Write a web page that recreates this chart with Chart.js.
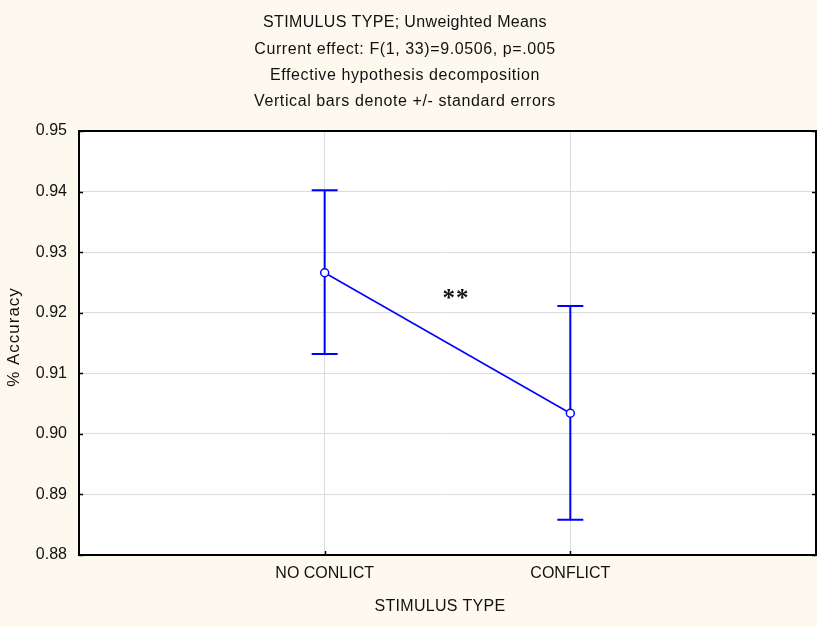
<!DOCTYPE html>
<html>
<head>
<meta charset="utf-8">
<script src="https://cdn.jsdelivr.net/npm/chart.js@4/dist/chart.umd.min.js"></script>
<style>
  html, body { margin: 0; padding: 0; background: #FDF9EE; }
  #wrap { width: 817px; height: 627px; }
</style>
</head>
<body>
<div id="wrap"><canvas id="c" width="817" height="627"></canvas></div>
<script>
// Stimulus type conditions and their mean accuracy
const categories = ['NO CONLICT', 'CONFLICT'];
const catPositions = [1, 2];
const meanAccuracy = [0.9266, 0.9034];
// Mean +/- standard error
const upperSE = [0.9402, 0.9211];
const lowerSE = [0.9132, 0.8858];
const yTicks = [0.88, 0.89, 0.90, 0.91, 0.92, 0.93, 0.94, 0.95];

const titleLines = [
  'STIMULUS TYPE; Unweighted Means',
  'Current effect: F(1, 33)=9.0506, p=.005',
  'Effective hypothesis decomposition',
  'Vertical bars denote +/- standard errors'
];
const titleSpacing = [0.35, 0.6, 0.6, 0.6];
const xTitle = 'STIMULUS TYPE';
const yTitle = '% Accuracy';
const significance = '**';

const FONT = '"Liberation Sans", Arial, sans-serif';
const BLUE = '#0000FF';

const frame = {
  id: 'frame',
  beforeDraw(chart) {
    const { ctx, chartArea: a } = chart;
    ctx.save();
    ctx.fillStyle = '#FDF9EE';
    ctx.fillRect(0, 0, chart.width, chart.height);
    ctx.fillStyle = '#FFFFFF';
    ctx.fillRect(a.left, a.top, a.right - a.left, a.bottom - a.top);
    ctx.restore();
  },
  beforeDatasetsDraw(chart) {
    // standard-error whiskers
    const { ctx, scales: { x, y } } = chart;
    ctx.save();
    ctx.strokeStyle = BLUE;
    ctx.lineWidth = 2;
    catPositions.forEach((p, i) => {
      const px = x.getPixelForValue(p);
      const yt = y.getPixelForValue(upperSE[i]);
      const yb = y.getPixelForValue(lowerSE[i]);
      ctx.beginPath();
      ctx.moveTo(px, yt); ctx.lineTo(px, yb);
      ctx.moveTo(px - 13, yt); ctx.lineTo(px + 13, yt);
      ctx.moveTo(px - 13, yb); ctx.lineTo(px + 13, yb);
      ctx.stroke();
    });
    ctx.restore();
  },
  afterDraw(chart) {
    const { ctx, chartArea: a, scales: { x, y } } = chart;
    ctx.save();
    // plot box
    ctx.strokeStyle = '#000';
    ctx.lineWidth = 2;
    ctx.strokeRect(a.left, a.top, a.right - a.left, a.bottom - a.top);
    // short inner ticks on the value axis
    ctx.lineWidth = 1.5;
    yTicks.forEach(v => {
      const py = Math.round(y.getPixelForValue(v)) + 0.5;
      ctx.beginPath();
      ctx.moveTo(a.left, py); ctx.lineTo(a.left + 4, py);
      ctx.moveTo(a.right, py); ctx.lineTo(a.right - 4, py);
      ctx.stroke();
    });
    catPositions.forEach(p => {
      const px = Math.round(x.getPixelForValue(p)) + 0.5;
      ctx.beginPath();
      ctx.moveTo(px, a.bottom); ctx.lineTo(px, a.bottom - 4);
      ctx.stroke();
    });
    // titles
    ctx.fillStyle = '#111';
    ctx.textAlign = 'center';
    ctx.textBaseline = 'middle';
    ctx.font = '16px ' + FONT;
    titleLines.forEach((t, i) => {
      ctx.letterSpacing = titleSpacing[i] + 'px';
      ctx.fillText(t, 405, 23 + i * 26.3);
    });
    ctx.letterSpacing = '0.3px';
    ctx.fillText(xTitle, 440, 607);
    ctx.save();
    ctx.translate(14, 337);
    ctx.rotate(-Math.PI / 2);
    ctx.font = '17px ' + FONT;
    ctx.letterSpacing = '1px';
    ctx.fillText(yTitle, 0, 0);
    ctx.restore();
    // significance marker
    ctx.letterSpacing = '1px';
    ctx.font = 'bold 25px "Liberation Serif", serif';
    ctx.fillText(significance, x.getPixelForValue(1.535), y.getPixelForValue(0.9222));
    ctx.restore();
  }
};

new Chart(document.getElementById('c'), {
  type: 'line',
  data: {
    datasets: [{
      data: catPositions.map((p, i) => ({ x: p, y: meanAccuracy[i] })),
      borderColor: BLUE,
      borderWidth: 1.5,
      pointRadius: 4,
      pointBorderWidth: 1.5,
      pointBorderColor: BLUE,
      pointBackgroundColor: '#FFFFFF',
      tension: 0
    }]
  },
  options: {
    responsive: false,
    animation: false,
    layout: { autoPadding: false, padding: { top: 131, right: 1, left: 0, bottom: 0 } },
    plugins: { legend: { display: false }, tooltip: { enabled: false } },
    scales: {
      x: {
        type: 'linear',
        min: 0, max: 3,
        afterBuildTicks: s => { s.ticks = catPositions.map(v => ({ value: v })); },
        afterFit: s => { s.height = 72; s.paddingLeft = 0; s.paddingRight = 0; },
        ticks: {
          callback: v => categories[catPositions.indexOf(v)],
          color: '#111',
          font: { size: 16, family: FONT },
          padding: 9,
          maxRotation: 0
        },
        grid: { color: '#DCDCDC', lineWidth: 1, drawTicks: false },
        border: { display: false }
      },
      y: {
        min: 0.88, max: 0.95,
        afterBuildTicks: s => { s.ticks = yTicks.map(v => ({ value: v })); },
        afterFit: s => { s.width = 79; },
        ticks: {
          callback: v => v.toFixed(2),
          color: '#111',
          font: { size: 16, family: FONT },
          padding: 12
        },
        grid: { color: '#DCDCDC', lineWidth: 1, drawTicks: false },
        border: { display: false }
      }
    }
  },
  plugins: [frame]
});
</script>
</body>
</html>
